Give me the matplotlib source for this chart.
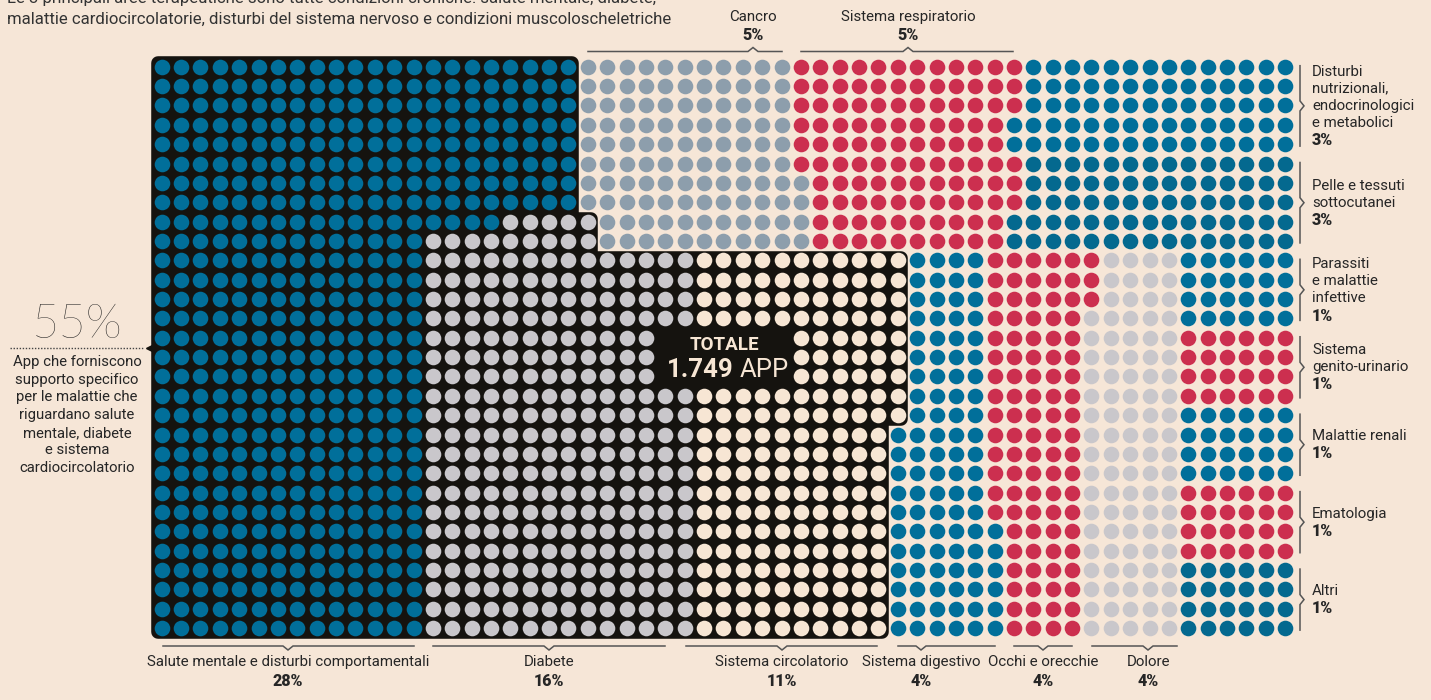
import numpy as np
import matplotlib
matplotlib.use("Agg")
import matplotlib.pyplot as plt
from matplotlib.patches import Polygon
from matplotlib import font_manager

W, H = 1431, 700

# ---- data -------------------------------------------------------------
categories = [
    "Salute mentale e disturbi comportamentali",
    "Diabete",
    "Sistema circolatorio",
    "Sistema digestivo",
    "Occhi e orecchie",
    "Dolore",
    "Cancro",
    "Sistema respiratorio",
    "Disturbi\nnutrizionali,\nendocrinologici\ne metabolici",
    "Pelle e tessuti\nsottocutanei",
    "Parassiti\ne malattie\ninfettive",
    "Sistema\ngenito-urinario",
    "Malattie renali",
    "Ematologia",
    "Altri",
]
app_counts = [488, 288, 194, 97, 97, 97, 112, 112, 72, 72, 24, 24, 24, 24, 24]
pct_labels = ["28%", "16%", "11%", "4%", "4%", "4%", "5%", "5%",
              "3%", "3%", "1%", "1%", "1%", "1%", "1%"]
total_label = "1.749"
top3_share = "55%"
top3_text = ["App che forniscono", "supporto specifico", "per le malattie che",
             "riguardano salute", "mentale, diabete", "e sistema",
             "cardiocircolatorio"]
header = ["Le 3 principali aree terapeutiche sono tutte condizioni croniche: salute mentale, diabete,",
          "malattie cardiocircolatorie, disturbi del sistema nervoso e condizioni muscoloscheletriche"]

# ---- layout: grid regions (rows, cols inclusive) for each category -----
regions = [
    [(0, 7, 0, 21), (8, 8, 0, 17), (9, 29, 0, 13)],
    [(8, 8, 18, 22), (9, 9, 14, 22), (10, 29, 14, 27)],
    [(10, 18, 28, 38), (19, 29, 28, 37)],
    [(10, 18, 39, 42), (19, 23, 38, 42), (24, 29, 38, 43)],
    [(10, 12, 43, 48), (13, 23, 43, 47), (24, 29, 44, 47)],
    [(10, 12, 49, 52), (13, 29, 48, 52)],
    [(0, 5, 22, 32), (6, 7, 22, 33), (8, 9, 23, 33)],
    [(0, 2, 33, 44), (3, 4, 33, 43), (5, 5, 33, 44), (6, 7, 34, 44), (8, 9, 34, 43)],
    [(0, 2, 45, 58), (3, 4, 44, 58)],
    [(5, 7, 45, 58), (8, 9, 44, 58)],
    [(10, 13, 53, 58)],
    [(14, 17, 53, 58)],
    [(18, 21, 53, 58)],
    [(22, 25, 53, 58)],
    [(26, 29, 53, 58)],
]
hidden = (14, 16, 26, 32)  # cells covered by the "TOTALE" box

BG = "#f6e6d7"
DARK = "#15130f"
BLUE = "#016f9a"
BLUE2 = "#04698f"
RED = "#cc2f4f"
LGRAY = "#c9c7cb"
SLATE = "#8d9eac"
CREAM = "#f7e6d4"
TXT = "#262626"
LINE = "#555555"
colors = [BLUE, LGRAY, CREAM, BLUE, RED, LGRAY, SLATE, RED,
          BLUE, BLUE2, BLUE, RED, BLUE, RED, BLUE2]

X0, Y0, DX, DY = 161.7, 66.7, 19.37, 19.36
DOT_PX = 15.6

names = {f.name for f in font_manager.fontManager.ttflist}
COND = "Liberation Sans Narrow" if "Liberation Sans Narrow" in names else "Roboto"
SANS = "Roboto"

fig = plt.figure(figsize=(W / 100, H / 100), dpi=100, facecolor=BG)
ax = fig.add_axes([0, 0, 1, 1])
ax.set_facecolor(BG)
ax.set_xlim(-X0 / DX, (W - X0) / DX)
ax.set_ylim((H - Y0) / DY, -Y0 / DY)
ax.axis("off")


def inset(poly, r):
    pts = np.asarray(poly, float)
    area = 0.5 * np.sum(pts[:, 0] * np.roll(pts[:, 1], -1) - np.roll(pts[:, 0], -1) * pts[:, 1])
    sgn = 1 if area > 0 else -1
    out = []
    for i in range(len(pts)):
        a, b, c = pts[i - 1], pts[i], pts[(i + 1) % len(pts)]
        d1 = (b - a) / np.linalg.norm(b - a)
        d2 = (c - b) / np.linalg.norm(c - b)
        n1 = sgn * np.array([-d1[1], d1[0]])
        n2 = sgn * np.array([-d2[1], d2[0]])
        out.append(b + r * (n1 + n2))
    return out


# dark rounded background behind the top-3 areas
p, rad = 0.53, 0.35
outline = [(-p, -p), (21 + p, -p), (21 + p, 7 + p), (22 + p, 7 + p), (22 + p, 9 + p),
           (38 + p, 9 + p), (38 + p, 18 + p), (37 + p, 18 + p), (37 + p, 29 + p), (-p, 29 + p)]
lw = 2 * rad * DX * 0.72
ax.add_patch(Polygon(inset(outline, rad), closed=True, facecolor=DARK, edgecolor=DARK,
                     linewidth=lw, joinstyle="round", zorder=1))
ax.plot([-p - 0.05], [(348 - Y0) / DY], marker="<", ms=6, color=DARK, zorder=1)

# dots
s = (DOT_PX * 0.72) ** 2
for cat, n, regs, col in zip(categories, app_counts, regions, colors):
    cells = []
    for r0, r1, c0, c1 in regs:
        for r in range(r0, r1 + 1):
            for c in range(c0, c1 + 1):
                if hidden[0] <= r <= hidden[1] and hidden[2] <= c <= hidden[3]:
                    continue
                cells.append((c, r))
    cells = np.array(cells[:n])
    ax.scatter(cells[:, 0], cells[:, 1], s=s, color=col, linewidths=0, zorder=2)

# overlay in pixel coordinates for labels
ov = fig.add_axes([0, 0, 1, 1], facecolor="none")
ov.set_xlim(0, W)
ov.set_ylim(H, 0)
ov.axis("off")

# header
ov.text(7, -1.5, header[0], fontsize=12.1, family=COND, color="#333333", va="center", ha="left")
ov.text(7, 19, header[1], fontsize=12.1, family=COND, color="#333333", va="center", ha="left")

# total
ov.text(724, 345, "TOTALE", fontsize=13.5, family=SANS, weight="bold", color=CREAM,
        ha="center", va="center", zorder=5)
ov.text(734, 370, total_label, fontsize=18.5, family=SANS, weight="bold", color=CREAM,
        ha="right", va="center", zorder=5)
ov.text(740, 370, "APP", fontsize=18.5, family=SANS, color=CREAM, ha="left", va="center", zorder=5)

# left annotation
ov.text(77, 325, top3_share, fontsize=34, family="Lato", weight="light", color="#1a1a1a",
        ha="center", va="center")
ov.plot([10, 143], [348, 348], ls=(0, (1, 1.2)), lw=1, color="#444444")
for i, t in enumerate(top3_text):
    ov.text(77, 362 + i * 17.7, t, fontsize=10.7, family=SANS, color=TXT, ha="center", va="center")

LBL = 10.8
PCT = 11.5


def hbracket(x0, x1, y, xn, d):
    ov.plot([x0, xn - 5, xn, xn + 5, x1], [y, y, y + d, y, y], color=LINE, lw=1.1,
            solid_joinstyle="miter")


def vbracket(y0, y1, x, yn):
    ov.plot([x, x, x + 4, x, x], [y0, yn - 5, yn, yn + 5, y1], color=LINE, lw=1.1,
            solid_joinstyle="miter")


# bottom labels: (category, text centre, bracket start, bracket end)
bottom = [(0, 288, 163, 414), (1, 549, 433, 665), (2, 782, 686, 877),
          (3, 921, 898, 995), (4, 1043, 1014, 1072), (5, 1148, 1092, 1177)]
for i, xc, x0, x1 in bottom:
    hbracket(x0, x1, 646, xc, 4)
    ov.text(xc, 662, categories[i], fontsize=LBL, family=SANS, color=TXT, ha="center", va="center")
    ov.text(xc, 681, pct_labels[i], fontsize=PCT, family=SANS, weight="black", color=TXT,
            ha="center", va="center")

# top labels
top = [(6, 753, 588, 782), (7, 908, 801, 1013)]
for i, xc, x0, x1 in top:
    hbracket(x0, x1, 51.5, xc, -4)
    ov.text(xc, 17, categories[i], fontsize=LBL, family=SANS, color=TXT, ha="center", va="center")
    ov.text(xc, 35, pct_labels[i], fontsize=PCT, family=SANS, weight="black", color=TXT,
            ha="center", va="center")

# right labels: (category, first row, last row)
right = [(8, 0, 4), (9, 5, 9), (10, 10, 13), (11, 14, 17), (12, 18, 21), (13, 22, 25), (14, 26, 29)]
for i, r0, r1 in right:
    y0 = Y0 + r0 * DY - 1
    y1 = Y0 + r1 * DY + 2
    yc = (y0 + y1) / 2
    vbracket(y0, y1, 1300, yc)
    lines = categories[i].split("\n") + [pct_labels[i]]
    n = len(lines)
    for k, t in enumerate(lines):
        y = yc + (k - (n - 1) / 2) * 17.2
        last = k == n - 1
        ov.text(1312, y, t, fontsize=PCT if last else LBL, family=SANS, color=TXT,
                ha="left", va="center", weight="black" if last else "normal")

fig.savefig("out.png", dpi=100, facecolor=BG)
